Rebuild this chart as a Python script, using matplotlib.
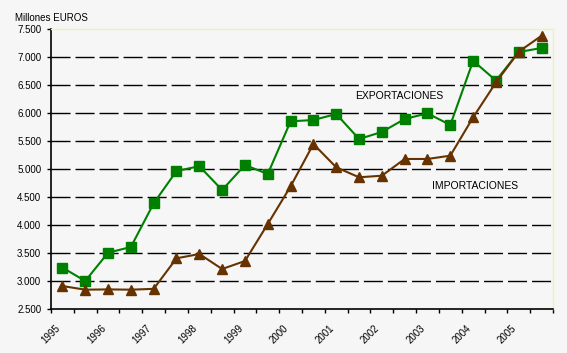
"""
Exportaciones e importaciones semestrales 1995-2005 (millones de euros).
"""
import matplotlib
matplotlib.use("Agg")
import matplotlib.pyplot as plt

# Datos (dos valores por año)
years = ["1995", "1996", "1997", "1998", "1999", "2000",
         "2001", "2002", "2003", "2004", "2005"]
exportaciones = [3240, 3000, 3505, 3607, 4387, 4964, 5050, 4625, 5071, 4911, 5851,
                 5875, 5982, 5536, 5661, 5893, 5994, 5786, 6932, 6580, 7089, 7161]
importaciones = [2910, 2845, 2850, 2845, 2860, 3405, 3482, 3214, 3357, 4018, 4690,
                 5446, 5030, 4852, 4880, 5179, 5179, 5238, 5923, 6545, 7095, 7380]
y_ticks = [2500, 3000, 3500, 4000, 4500, 5000, 5500, 6000, 6500, 7000, 7500]

plt.rcParams["font.family"] = ["Liberation Sans", "DejaVu Sans"]
plt.rcParams["lines.scale_dashes"] = False

bg = "#f6f6f6"
fig = plt.figure(figsize=(5.67, 3.53), dpi=100, facecolor=bg)
ax = fig.add_axes([51 / 567, 1 - 309 / 353, (553 - 51) / 567, (309 - 29) / 353])
ax.set_facecolor(bg)

x = [i + 0.5 for i in range(len(exportaciones))]

# Lineas de cuadricula discontinuas
for v in y_ticks[1:-1]:
    ax.axhline(v, color="black", linewidth=1.0, linestyle=(0, (13.7, 3.6)), zorder=1)

ax.plot(x, exportaciones, color="#008000", linewidth=1.5, marker="s",
        markersize=6.5, zorder=3)
ax.plot(x, importaciones, color="#663300", linewidth=1.5, marker="^",
        markersize=6.5, zorder=3)

ax.set_xlim(0, len(exportaciones))
ax.set_ylim(2500, 7500)
ax.set_yticks(y_ticks)
ax.set_yticklabels([f"{v:,}".replace(",", ".") for v in y_ticks], fontsize=7)

ax.set_xticks(range(len(exportaciones) + 1))
labels = []
for i in range(len(exportaciones) + 1):
    labels.append(years[i // 2] if i % 2 == 0 and i // 2 < len(years) else "")
ax.set_xticklabels(labels, fontsize=7, rotation=45)

ax.tick_params(axis="both", length=3, width=1, color="black", direction="out")
ax.tick_params(axis="x", pad=7)
ax.tick_params(axis="y", pad=4)

for side in ["left", "bottom"]:
    ax.spines[side].set_color("black")
    ax.spines[side].set_linewidth(1.2)
for side in ["top", "right"]:
    ax.spines[side].set_color("#f5f0b0")
    ax.spines[side].set_linewidth(1)

ax.text(13.33, 6300, "EXPORTACIONES", fontsize=7.5, ha="left", va="center")
ax.text(16.7, 4700, "IMPORTACIONES", fontsize=7.5, ha="left", va="center")

fig.text(15 / 567, 1 - 18 / 353, "Millones EUROS", fontsize=7, ha="left", va="center")

fig.savefig("out.png", dpi=100, facecolor=bg)
